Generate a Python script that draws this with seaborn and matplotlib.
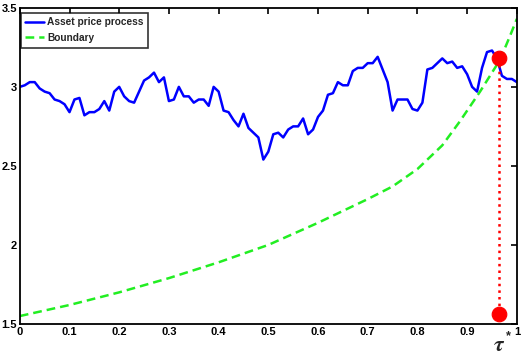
import matplotlib
matplotlib.use("Agg")
import matplotlib.pyplot as plt
import numpy as np
import pandas as pd
import seaborn as sns

# asset price path
t_path = [0.00, 0.01, 0.02, 0.03, 0.04, 0.05, 0.06, 0.07, 0.08, 0.09,
          0.10, 0.11, 0.12, 0.13, 0.14, 0.15, 0.16, 0.17, 0.18, 0.19,
          0.20, 0.21, 0.22, 0.23, 0.24, 0.25, 0.26, 0.27, 0.28, 0.29,
          0.30, 0.31, 0.32, 0.33, 0.34, 0.35, 0.36, 0.37, 0.38, 0.39,
          0.40, 0.41, 0.42, 0.43, 0.44, 0.45, 0.46, 0.47, 0.48, 0.49,
          0.50, 0.51, 0.52, 0.53, 0.54, 0.55, 0.56, 0.57, 0.58, 0.59,
          0.60, 0.61, 0.62, 0.63, 0.64, 0.65, 0.66, 0.67, 0.68, 0.69,
          0.70, 0.71, 0.72, 0.73, 0.74, 0.75, 0.76, 0.77, 0.78, 0.79,
          0.80, 0.81, 0.82, 0.83, 0.84, 0.85, 0.86, 0.87, 0.88, 0.89,
          0.90, 0.91, 0.92, 0.93, 0.94, 0.95, 0.96, 0.97, 0.98, 0.99, 1.00]
price = [3.00, 3.01, 3.03, 3.03, 2.99, 2.97, 2.96, 2.92, 2.91, 2.89,
         2.84, 2.92, 2.93, 2.82, 2.84, 2.84, 2.86, 2.91, 2.85, 2.97,
         3.00, 2.94, 2.91, 2.90, 2.97, 3.04, 3.06, 3.09, 3.03, 3.06,
         2.91, 2.92, 3.00, 2.94, 2.94, 2.90, 2.92, 2.92, 2.88, 3.00,
         2.97, 2.85, 2.84, 2.79, 2.75, 2.83, 2.74, 2.71, 2.68, 2.54,
         2.59, 2.70, 2.71, 2.68, 2.73, 2.75, 2.75, 2.80, 2.70, 2.73,
         2.81, 2.85, 2.95, 2.96, 3.03, 3.01, 3.01, 3.10, 3.12, 3.12,
         3.15, 3.15, 3.19, 3.11, 3.03, 2.85, 2.92, 2.92, 2.92, 2.86,
         2.85, 2.90, 3.11, 3.12, 3.15, 3.18, 3.15, 3.16, 3.12, 3.13,
         3.08, 3.00, 2.97, 3.12, 3.22, 3.23, 3.18, 3.07, 3.05, 3.05, 3.03]

# exercise boundary
t_bound = [0.0, 0.1, 0.2, 0.3, 0.4, 0.5, 0.6, 0.7, 0.75, 0.8, 0.85,
           0.885, 0.926, 0.946, 0.966, 0.986, 1.0]
boundary = [1.55, 1.62, 1.70, 1.79, 1.89, 2.00, 2.14, 2.29, 2.37, 2.48, 2.63,
            2.78, 2.97, 3.07, 3.17, 3.32, 3.43]

# stopping time and the two marked points
tau_star = 0.964
hit_values = [3.18, 1.56]

x_ticks = [0, 0.1, 0.2, 0.3, 0.4, 0.5, 0.6, 0.7, 0.8, 0.9, 1]
x_labels = ["0", "0.1", "0.2", "0.3", "0.4", "0.5", "0.6", "0.7", "0.8", "0.9", "1"]
y_ticks = [1.5, 2, 2.5, 3, 3.5]
y_labels = ["1.5", "2", "2.5", "3", "3.5"]

sns.set_style("white")
plt.rcParams["font.family"] = ["Liberation Sans", "DejaVu Sans"]
plt.rcParams["font.weight"] = "bold"
plt.rcParams["mathtext.fontset"] = "stix"

path_df = pd.DataFrame({"t": t_path, "price": price})
bound_df = pd.DataFrame({"t": t_bound, "boundary": boundary})
hits_df = pd.DataFrame({"t": [tau_star] * len(hit_values), "v": hit_values})

fig = plt.figure(figsize=(5.21, 3.56), dpi=100)
ax = fig.add_axes([0.038, 0.09, 0.954, 0.888])

sns.lineplot(data=path_df, x="t", y="price", color="#0000ff", linewidth=1.8,
             label="Asset price process", ax=ax)
sns.lineplot(data=bound_df, x="t", y="boundary", color="#22ee22", linewidth=1.8,
             linestyle=(0, (3.5, 2)), label="Boundary", ax=ax)
ax.plot(hits_df["t"], hits_df["v"], color="#ff0000", linestyle=":", linewidth=1.8)
sns.scatterplot(data=hits_df, x="t", y="v", color="#ff0000", s=110,
                edgecolor="#ff0000", zorder=5, legend=False, ax=ax)

ax.set_xlim(0, 1)
ax.set_ylim(1.5, 3.5)
ax.set_xticks(x_ticks)
ax.set_xticklabels(x_labels)
ax.set_yticks(y_ticks)
ax.set_yticklabels(y_labels)
ax.set_xlabel("")
ax.set_ylabel("")
ax.tick_params(direction="in", length=4, width=1.2, top=True, right=True,
               labelsize=8, pad=2, colors="black")
for lab in ax.get_xticklabels() + ax.get_yticklabels():
    lab.set_fontweight("bold")
for sp in ax.spines.values():
    sp.set_visible(True)
    sp.set_color("black")
    sp.set_linewidth(1.3)

leg = ax.legend(loc="upper left", bbox_to_anchor=(0.002, 0.984), borderaxespad=0,
                fontsize=7.3, frameon=True, fancybox=False, handlelength=1.8,
                borderpad=0.45, labelspacing=0.55, handletextpad=0.35)
leg.get_frame().set_edgecolor("black")
leg.get_frame().set_linewidth(1.2)
for txt in leg.get_texts():
    txt.set_fontweight("bold")

# tau* marker under the axis
ax.annotate(r"$\tau$", xy=(tau_star, 0), xycoords=("data", "axes fraction"),
            xytext=(0, -15.5), textcoords="offset points", ha="center", va="center",
            fontsize=16)
ax.annotate("*", xy=(tau_star, 0), xycoords=("data", "axes fraction"),
            xytext=(6.5, -9), textcoords="offset points", ha="center", va="center",
            fontsize=9)

fig.savefig("out.png", dpi=100)
